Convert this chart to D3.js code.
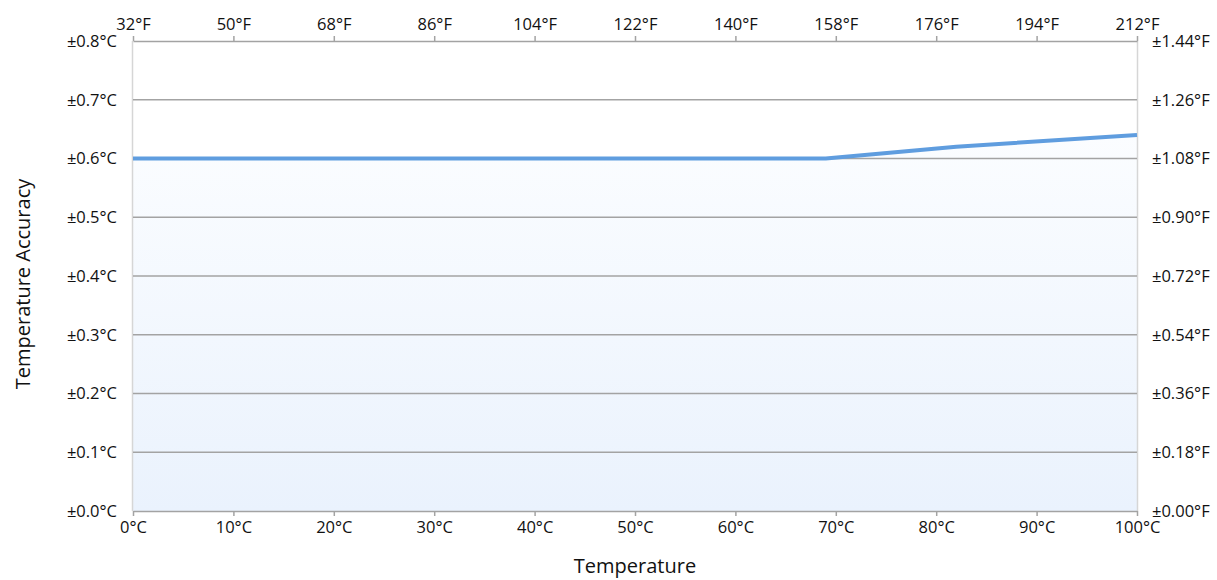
<!DOCTYPE html>
<html><head><meta charset="utf-8">
<script src="https://cdn.jsdelivr.net/npm/d3@7"></script>
<style>body{margin:0;background:#fff}svg text{font-family:"Open Sans",sans-serif;fill:#111}.tick text{font-size:16.5px !important}</style>
</head><body><svg id="c" width="1217" height="580"></svg>
<script>
const tempC = [0, 69, 82, 100];
const accuracyC = [0.6, 0.6, 0.62, 0.64];
const xTicksC = [0,10,20,30,40,50,60,70,80,90,100];
const xTicksF = [32,50,68,86,104,122,140,158,176,194,212];
const yTicksC = [0,0.1,0.2,0.3,0.4,0.5,0.6,0.7,0.8];
const yTicksF = [0,0.18,0.36,0.54,0.72,0.90,1.08,1.26,1.44];

const svg = d3.select("#c");
const L=133,R=1137,T=41,B=511;
const x = d3.scaleLinear().domain([0,100]).range([L,R]);
const xF = d3.scaleLinear().domain([32,212]).range([L,R]);
const y = d3.scaleLinear().domain([0,0.8]).range([B,T]);
const yF = d3.scaleLinear().domain([0,1.44]).range([B,T]);
const data = tempC.map((t,i)=>({t,a:accuracyC[i]}));

const defs = svg.append("defs");
const g = defs.append("linearGradient").attr("id","gr").attr("x1",0).attr("y1",0).attr("x2",0).attr("y2",1);
g.append("stop").attr("offset","0%").attr("stop-color","#fbfdff");
g.append("stop").attr("offset","100%").attr("stop-color","#eaf2fd");

svg.append("path").datum(data)
  .attr("d", d3.area().x(d=>x(d.t)).y0(B).y1(d=>y(d.a)))
  .attr("fill","url(#gr)");

svg.append("line").attr("x1",L-0.5).attr("x2",L-0.5).attr("y1",T).attr("y2",B).attr("stroke","#d6d6d6").attr("stroke-width",1.5);
svg.append("line").attr("x1",R+0.5).attr("x2",R+0.5).attr("y1",T).attr("y2",B).attr("stroke","#d6d6d6").attr("stroke-width",1.5);

svg.append("g").selectAll("line").data(yTicksC.filter(v=>v>0&&v<0.8)).join("line")
  .attr("x1",L).attr("x2",R).attr("y1",d=>y(d)).attr("y2",d=>y(d))
  .attr("stroke","#a3a3a3").attr("stroke-width",1.5);

const bAx = svg.append("g").attr("transform",`translate(0,${B})`)
  .call(d3.axisBottom(x).tickValues(xTicksC).tickFormat(d=>d+"°C").tickSize(5).tickSizeOuter(0));
const tAx = svg.append("g").attr("transform",`translate(0,${T})`)
  .call(d3.axisTop(xF).tickValues(xTicksF).tickFormat(d=>d+"°F").tickSize(5).tickSizeOuter(0));
const lAx = svg.append("g").attr("transform",`translate(${L},0)`)
  .call(d3.axisLeft(y).tickValues(yTicksC).tickFormat(d=>"±"+d3.format(".1f")(d)+"°C").tickSize(0));
const rAx = svg.append("g").attr("transform",`translate(${R},0)`)
  .call(d3.axisRight(yF).tickValues(yTicksF).tickFormat(d=>"±"+d3.format(".2f")(d)+"°F").tickSize(0));
[bAx,tAx].forEach(a=>{a.select(".domain").attr("stroke","#a3a3a3").attr("stroke-width",1.5);
  a.selectAll(".tick line").attr("stroke","#a3a3a3").attr("stroke-width",1.5);});
[lAx,rAx].forEach(a=>a.select(".domain").remove());
[bAx,tAx,lAx,rAx].forEach(a=>a.attr("font-family",null).attr("font-size",null));
bAx.selectAll(".tick text").attr("dy","0.85em");
tAx.selectAll(".tick text").attr("dy","-0.2em");
lAx.selectAll(".tick text").attr("x",-16);
rAx.selectAll(".tick text").attr("x",15);

svg.append("path").datum(data)
  .attr("d", d3.line().x(d=>x(d.t)).y(d=>y(d.a)))
  .attr("fill","none").attr("stroke","#5f9ddf").attr("stroke-width",4).attr("stroke-linejoin","round");

svg.append("text").attr("x",635).attr("y",573).attr("text-anchor","middle").style("font-size","20px").text("Temperature");
svg.append("text").attr("transform","translate(30,284) rotate(-90)").attr("text-anchor","middle").style("font-size","20px").text("Temperature Accuracy");
</script></body></html>
